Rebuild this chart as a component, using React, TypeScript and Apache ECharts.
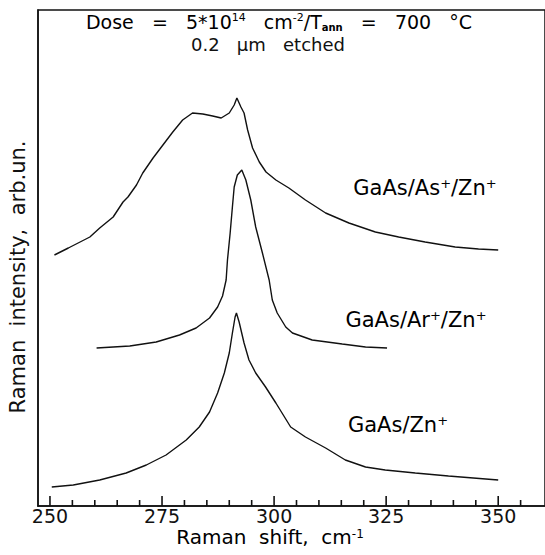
import React, { useEffect, useRef } from "react";
import * as echarts from "echarts";

// Raman shift (cm^-1) and intensity (arb. units)
const asX = [251.0, 254.1, 258.9, 261.1, 264.1, 266.3, 267.4, 269.3, 270.7, 273.0, 275.2, 277.4, 279.6, 281.8, 284.1, 286.3, 288.2, 290.0, 291.1, 291.7, 292.6, 293.3, 294.1, 295.2, 296.7, 298.2, 300.4, 303.3, 307.0, 311.5, 316.7, 322.6, 327.8, 333.7, 340.4, 345.6, 350.0];
const asY = [251, 258, 269, 278, 289, 304, 309, 321, 333, 348, 361, 374, 386, 393, 392, 390, 388, 393, 401, 408, 399, 393, 376, 358, 344, 334, 326, 318, 306, 293, 283, 274, 269, 264, 259, 257, 256];

const arX = [260.4, 267.8, 273.7, 278.9, 282.6, 285.6, 287.4, 288.5, 289.3, 289.6, 290.2, 290.7, 291.1, 291.8, 292.8, 293.7, 294.8, 295.9, 297.4, 298.9, 299.6, 300.7, 302.6, 304.1, 308.5, 315.2, 320.4, 325.2];
const arY = [158, 160, 164, 171, 178, 188, 199, 210, 226, 246, 273, 299, 319, 331, 336, 326, 306, 279, 253, 226, 206, 193, 179, 173, 166, 162, 159, 158];

const znX = [250.4, 255.2, 261.1, 267.0, 271.5, 275.9, 280.4, 283.3, 285.6, 287.4, 288.9, 290.0, 290.7, 291.3, 291.6, 292.2, 293.3, 294.4, 295.9, 298.1, 300.4, 303.7, 307.0, 311.5, 315.9, 320.4, 324.8, 331.5, 338.9, 350.0];
const znY = [19, 21, 26, 33, 41, 51, 66, 79, 94, 113, 133, 153, 173, 189, 193, 184, 163, 146, 133, 119, 103, 79, 69, 58, 46, 39, 36, 33, 30, 26];

const majorTicks = [250, 275, 300, 325, 350];
const minorTicks = [255, 260, 265, 270, 280, 285, 290, 295, 305, 310, 315, 320, 330, 335, 340, 345, 355];

const FONT = "DejaVu Sans";
const INK = "#111";

function pairs(xs: number[], ys: number[]) {
  return xs.map((x, i) => [x, ys[i]]);
}

export default function App() {
  const ref = useRef<HTMLDivElement>(null);
  useEffect(() => {
    if (!ref.current) return;
    const chart = echarts.init(ref.current, undefined, { renderer: "svg" });
    const lineStyle = { color: INK, width: 1.4 };
    const mkSeries = (name: string, xs: number[], ys: number[]) => ({
      name,
      type: "line",
      data: pairs(xs, ys),
      showSymbol: false,
      symbol: "none",
      lineStyle,
      xAxisIndex: 0,
      yAxisIndex: 0,
    });
    const tickSeries = (name: string, values: number[], len: number) => ({
      name,
      type: "custom",
      data: values.map((v) => [v, 0]),
      silent: true,
      clip: false,
      z: 5,
      renderItem: (_params: any, api: any) => {
        const p = api.coord([api.value(0), api.value(1)]);
        return {
          type: "line",
          shape: { x1: p[0], y1: p[1], x2: p[0], y2: p[1] - len },
          style: { stroke: INK, lineWidth: 1.6 },
        };
      },
    });
    const mk = (fs: number) => ({
      b: { fontSize: fs, fontFamily: FONT, color: INK, lineHeight: fs + 2 },
      s: { fontSize: Math.round(fs * 0.6), verticalAlign: "top", fontFamily: FONT, color: INK, lineHeight: fs + 2 },
      u: { fontSize: Math.round(fs * 0.5), fontWeight: "bold", verticalAlign: "bottom", fontFamily: FONT, color: INK, lineHeight: fs },
    });
    const xMin = 247.33;
    const xMax = 360.44;
    chart.setOption({
      animation: false,
      backgroundColor: "#fff",
      grid: { left: 38, right: -2, top: 10, bottom: 49, show: true, borderColor: INK, borderWidth: 1.5, backgroundColor: "transparent" },
      xAxis: {
        type: "value",
        min: xMin,
        max: xMax,
        position: "bottom",
        axisLine: { show: true, lineStyle: { color: INK, width: 1.5 } },
        axisTick: { show: false },
        axisLabel: { show: true, customValues: majorTicks, fontSize: 19, lineHeight: 12, fontFamily: FONT, color: INK, margin: 4 },
        splitLine: { show: false },
      },
      yAxis: {
        type: "value",
        min: 0,
        max: 496,
        axisLine: { show: true, lineStyle: { color: INK, width: 1.5 } },
        axisTick: { show: false },
        axisLabel: { show: false },
        splitLine: { show: false },
      },
      series: [
        mkSeries("GaAs/As+/Zn+", asX, asY),
        mkSeries("GaAs/Ar+/Zn+", arX, arY),
        mkSeries("GaAs/Zn+", znX, znY),
        tickSeries("major ticks", majorTicks, 10),
        tickSeries("minor ticks", minorTicks, 6),
      ],
      graphic: [
        {
          type: "text",
          x: 279,
          y: 22,
          style: {
            text: "{b|Dose   =   5*10}{s|14}{b|   cm}{s|-2}{b|/T}{u|ann}{b|   =   700   °C}",
            align: "center",
            verticalAlign: "middle",
            rich: mk(19),
          },
        },
        {
          type: "text",
          x: 268,
          y: 44,
          style: { text: "0.2   μm   etched", align: "center", verticalAlign: "middle", fontSize: 18, lineHeight: 19, fontFamily: FONT, fill: INK },
        },
        {
          type: "text",
          x: 425,
          y: 188,
          style: { text: "{b|GaAs/As}{s|+}{b|/Zn}{s|+}", align: "center", verticalAlign: "middle", rich: mk(21) },
        },
        {
          type: "text",
          x: 416,
          y: 320,
          style: { text: "{b|GaAs/Ar}{s|+}{b|/Zn}{s|+}", align: "center", verticalAlign: "middle", rich: mk(21) },
        },
        {
          type: "text",
          x: 398,
          y: 425,
          style: { text: "{b|GaAs/Zn}{s|+}", align: "center", verticalAlign: "middle", rich: mk(21) },
        },
        {
          type: "text",
          x: 270,
          y: 537,
          style: {
            text: "{b|Raman  shift,  cm}{s|-1}",
            align: "center",
            verticalAlign: "middle",
            rich: {
              b: { fontSize: 20, fontFamily: FONT, color: INK, lineHeight: 18 },
              s: { fontSize: 12, verticalAlign: "top", fontFamily: FONT, color: INK, lineHeight: 18 },
            },
          },
        },
        {
          type: "text",
          x: 18,
          y: 277,
          rotation: Math.PI / 2,
          style: { text: "Raman  intensity,  arb.un.", align: "center", verticalAlign: "middle", fontSize: 21, fontFamily: FONT, fill: INK },
        },
      ],
    });
    return () => chart.dispose();
  }, []);
  return <div ref={ref} style={{ position: "fixed", left: 0, top: 0, width: 545, height: 555 }} />;
}
